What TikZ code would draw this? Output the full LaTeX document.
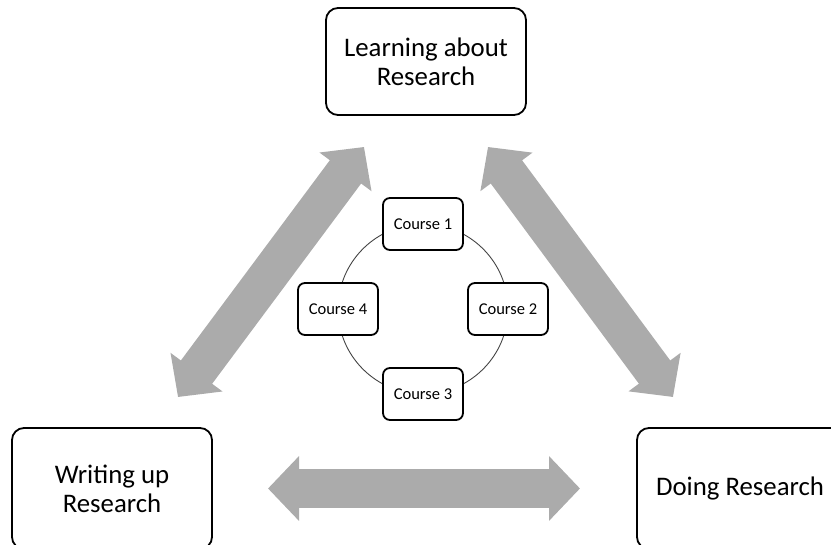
\documentclass[tikz,border=0pt]{standalone}
\usepackage{fontspec}
\setmainfont{Carlito}
\usetikzlibrary{arrows.meta}
\definecolor{arrowgray}{HTML}{ABABAB}
\definecolor{ringgray}{HTML}{444444}
\begin{document}
\begin{tikzpicture}[x=1pt,y=-1pt,
  bigbox/.style={draw=black, line width=1.8pt, rounded corners=12pt, align=center, inner sep=0pt, font=\fontsize{26.8}{29}\selectfont},
  coursebox/.style={draw=black, line width=1.8pt, rounded corners=7pt, fill=white, minimum width=80pt, minimum height=52pt, inner sep=0pt, font=\fontsize{16.5}{19}\selectfont},
  bigarrow/.style={draw=arrowgray, line width=39pt, {Triangle[length=31pt,width=63pt]}-{Triangle[length=31pt,width=63pt]}}]
\useasboundingbox (0,0) rectangle (831,545);
\node[bigbox, minimum width=200pt, minimum height=107pt] (learn) at (426,61.5) {Learning about\\Research};
\node[bigbox, minimum width=200pt, minimum height=121pt] (write) at (112,488.5) {Writing up\\Research};
\node[bigbox, minimum width=206pt, minimum height=121pt] (doing) at (740,488.5) {Doing Research};
\coordinate (ring) at (423,309);
\draw[ringgray, line width=0.9pt] (ring) circle[radius=85pt];
\node[coursebox] (c1) at (423,224) {Course 1};
\node[coursebox] (c2) at (508,309) {Course 2};
\node[coursebox] (c3) at (423,394) {Course 3};
\node[coursebox] (c4) at (338,309) {Course 4};
\coordinate (la) at (178,397);
\coordinate (lb) at (364,147);
\coordinate (ra) at (488,147);
\coordinate (rb) at (673,397);
\coordinate (ha) at (268,488.5);
\coordinate (hb) at (580,488.5);
\draw[bigarrow] (la) -- (lb);
\draw[bigarrow] (ra) -- (rb);
\draw[bigarrow] (ha) -- (hb);
\end{tikzpicture}
\end{document}
